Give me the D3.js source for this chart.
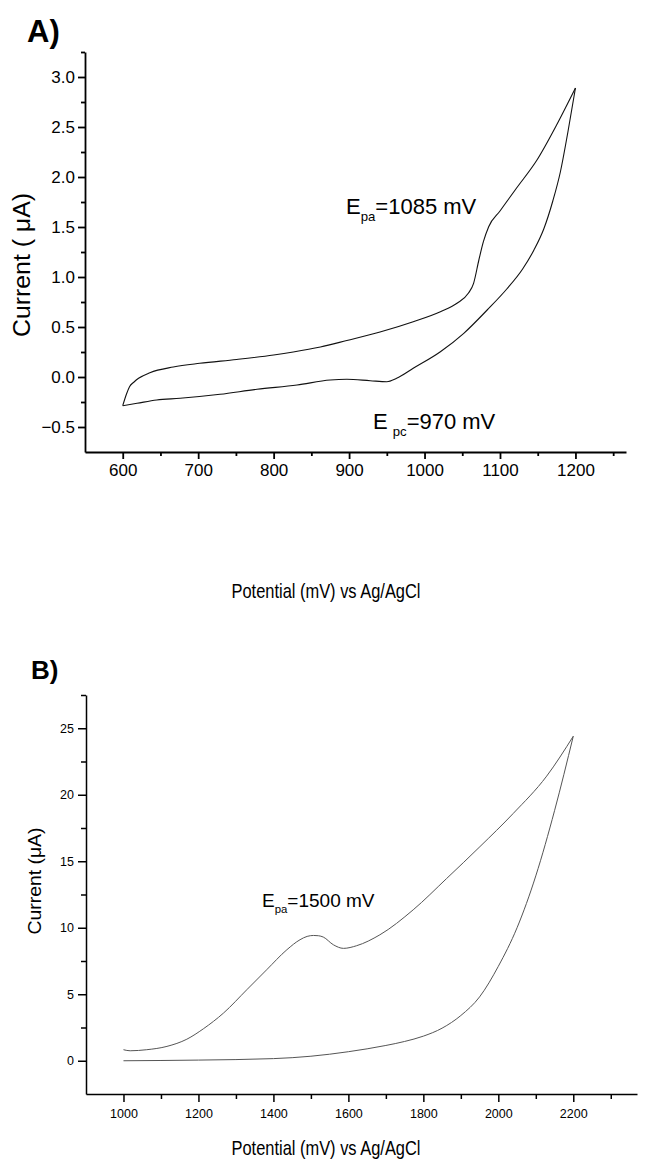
<!DOCTYPE html>
<html>
<head>
<meta charset="utf-8">
<script src="https://cdn.jsdelivr.net/npm/d3@7"></script>
<style>
  body { margin: 0; background: #fff; }
  svg { display: block; font-family: "Liberation Sans", Arial, sans-serif; }
  .axis path, .axis line { stroke: #000; }
</style>
</head>
<body>
<div id="chart"></div>
<script>
// panel A: forward sweep (600 -> 1200 mV)
let aFwdPotential = [600, 605, 609, 615, 621, 636, 667, 702, 751, 800, 826, 862, 897, 941, 985, 1021, 1043, 1058, 1065, 1072, 1078, 1085, 1100, 1122, 1149, 1175, 1200];
let aFwdCurrent = [-0.287, -0.17, -0.097, -0.05, -0.013, 0.043, 0.10, 0.137, 0.175, 0.22, 0.25, 0.30, 0.365, 0.45, 0.553, 0.653, 0.737, 0.837, 0.937, 1.17, 1.353, 1.503, 1.66, 1.89, 2.17, 2.52, 2.89];
// panel A: reverse sweep (1200 -> 600 mV)
let aRevPotential = [1200, 1190, 1180, 1170, 1158, 1145, 1130, 1109, 1083, 1052, 1021, 985, 963, 950, 928, 897, 875, 831, 778, 729, 676, 645, 619, 600];
let aRevCurrent = [2.89, 2.45, 2.05, 1.76, 1.48, 1.27, 1.08, 0.88, 0.67, 0.437, 0.253, 0.087, -0.013, -0.047, -0.037, -0.023, -0.03, -0.08, -0.123, -0.173, -0.213, -0.23, -0.263, -0.287];

// panel B: forward sweep (1000 -> 2200 mV)
let bFwdPotential = [1000, 1018, 1062, 1116, 1169, 1213, 1267, 1329, 1382, 1436, 1471, 1490, 1507, 1520, 1533, 1560, 1587, 1622, 1684, 1773, 1862, 1951, 2040, 2129, 2200];
let bFwdCurrent = [0.83, 0.75, 0.83, 1.08, 1.62, 2.4, 3.59, 5.34, 6.84, 8.35, 9.1, 9.35, 9.42, 9.4, 9.3, 8.72, 8.45, 8.65, 9.47, 11.35, 13.7, 16.1, 18.6, 21.4, 24.4];
// panel B: reverse sweep (2200 -> 1000 mV)
let bRevPotential = [2200, 2150, 2100, 2050, 2000, 1950, 1900, 1850, 1800, 1750, 1700, 1600, 1500, 1400, 1200, 1000];
let bRevCurrent = [24.4, 18.8, 13.9, 10.0, 7.1, 4.8, 3.4, 2.45, 1.85, 1.45, 1.15, 0.68, 0.34, 0.16, 0.05, 0.0];

// ticks
let aXTicks = [600, 700, 800, 900, 1000, 1100, 1200];
let aXMinor = [650, 750, 850, 950, 1050, 1150, 1250];
let aYTicks = [-0.5, 0.0, 0.5, 1.0, 1.5, 2.0, 2.5, 3.0];
let aYMinor = [-0.25, 0.25, 0.75, 1.25, 1.75, 2.25, 2.75, 3.25];
let bXTicks = [1000, 1200, 1400, 1600, 1800, 2000, 2200];
let bXMinor = [1100, 1300, 1500, 1700, 1900, 2100, 2300];
let bYTicks = [0, 5, 10, 15, 20, 25];
let bYMinor = [2.5, 7.5, 12.5, 17.5, 22.5, 27.5];

let W = 649, H = 1160;
let svg = d3.select('#chart').append('svg').attr('width', W).attr('height', H);

// pair up and sort by potential so monotoneX can be used on both sweeps
function zip(xs, ys) {
    return xs.map((x, i) => ({v: x, c: ys[i]})).sort((a, b) => a.v - b.v);
}

function panel(opt) {
    let x = d3.scaleLinear().domain(opt.xDomain).range(opt.xRange);
    let y = d3.scaleLinear().domain(opt.yDomain).range(opt.yRange);
    let g = svg.append('g');

    // minor ticks first
    g.append('g').attr('class', 'axis').attr('transform', 'translate(0,' + opt.yRange[0] + ')')
        .call(d3.axisBottom(x).tickValues(opt.xMinor).tickSize(opt.minorLen).tickFormat('').tickSizeOuter(0))
        .call(s => s.select('.domain').remove())
        .selectAll('line').attr('stroke-width', opt.axisW);
    g.append('g').attr('class', 'axis').attr('transform', 'translate(' + opt.xRange[0] + ',0)')
        .call(d3.axisLeft(y).tickValues(opt.yMinor).tickSize(opt.minorLen).tickFormat('').tickSizeOuter(0))
        .call(s => s.select('.domain').remove())
        .selectAll('line').attr('stroke-width', opt.axisW);

    let xa = g.append('g').attr('class', 'axis').attr('transform', 'translate(0,' + opt.yRange[0] + ')')
        .call(d3.axisBottom(x).tickValues(opt.xTicks).tickSize(opt.majorLen).tickSizeOuter(0).tickPadding(opt.xPad).tickFormat(d3.format('d')));
    xa.selectAll('path, line').attr('stroke-width', opt.axisW);
    xa.selectAll('text').attr('font-size', opt.tickFont).attr('fill', '#000');

    let ya = g.append('g').attr('class', 'axis').attr('transform', 'translate(' + opt.xRange[0] + ',0)')
        .call(d3.axisLeft(y).tickValues(opt.yTicks).tickSize(opt.majorLen).tickSizeOuter(0).tickPadding(opt.yPad).tickFormat(opt.yFmt));
    ya.selectAll('path, line').attr('stroke-width', opt.axisW);
    ya.selectAll('text').attr('font-size', opt.tickFont).attr('fill', '#000');

    let line = d3.line().x(d => x(d.v)).y(d => y(d.c)).curve(d3.curveMonotoneX);
    opt.sweeps.forEach(s => {
        g.append('path').attr('d', line(s)).attr('fill', 'none')
            .attr('stroke', opt.lineColor).attr('stroke-width', opt.lineW);
    });

    // axis titles (condensed to the original's width)
    g.append('text').attr('x', opt.xTitleX).attr('y', opt.xTitleY)
        .attr('text-anchor', 'middle').attr('font-size', opt.xTitleFont)
        .attr('textLength', opt.xTitleLen).attr('lengthAdjust', 'spacingAndGlyphs')
        .text('Potential (mV) vs Ag/AgCl');
    g.append('text').attr('transform', 'translate(' + opt.yTitleX + ',' + opt.yTitleY + ') rotate(-90)')
        .attr('text-anchor', 'middle').attr('font-size', opt.yTitleFont)
        .attr('textLength', opt.yTitleLen).attr('lengthAdjust', 'spacingAndGlyphs')
        .text(opt.yTitle);

    // panel letter
    g.append('text').attr('x', opt.letterX).attr('y', opt.letterY).attr('font-size', opt.letterFont)
        .attr('font-weight', 'bold').text(opt.letter);
    return {x: x, y: y, g: g};
}

// label like E<sub>pa</sub>=... drawn with a shifted tspan
function peakLabel(g, px, py, size, sub, rest, gap) {
    let t = g.append('text').attr('x', px).attr('y', py).attr('font-size', size);
    t.append('tspan').text('E');
    t.append('tspan').attr('dy', size * 0.32).attr('dx', gap).attr('font-size', size * 0.6).text(sub);
    t.append('tspan').attr('dy', -size * 0.32).text(rest);
}

let A = panel({
    xDomain: [550, 1267], xRange: [85, 626],
    yDomain: [-0.75, 3.25], yRange: [452, 52],
    xTicks: aXTicks, xMinor: aXMinor, yTicks: aYTicks, yMinor: aYMinor,
    majorLen: 7, minorLen: 4, axisW: 1.8, xPad: 5, yPad: 3,
    tickFont: 17, yFmt: d3.format('.1f'),
    sweeps: [zip(aFwdPotential, aFwdCurrent), zip(aRevPotential, aRevCurrent)],
    lineColor: '#111', lineW: 1.1,
    xTitleX: 326, xTitleY: 598, xTitleFont: 21, xTitleLen: 189,
    yTitleX: 30, yTitleY: 265, yTitleFont: 23, yTitleLen: 144, yTitle: 'Current ( \u03bcA)',
    letter: 'A)', letterX: 27, letterY: 42, letterFont: 31
});
peakLabel(A.g, 346, 214, 22, 'pa', '=1085 mV', 0);
peakLabel(A.g, 373, 429, 22, 'pc', '=970 mV', 5);

let B = panel({
    xDomain: [900, 2370], xRange: [86, 637],
    yDomain: [-2.5, 27.5], yRange: [1094, 695],
    xTicks: bXTicks, xMinor: bXMinor, yTicks: bYTicks, yMinor: bYMinor,
    majorLen: 8, minorLen: 5, axisW: 1.5, xPad: 7, yPad: 4,
    tickFont: 12.5, yFmt: d3.format('d'),
    sweeps: [zip(bFwdPotential, bFwdCurrent), zip(bRevPotential, bRevCurrent)],
    lineColor: '#555', lineW: 1,
    xTitleX: 326, xTitleY: 1155, xTitleFont: 21, xTitleLen: 189,
    yTitleX: 41, yTitleY: 881, yTitleFont: 19, yTitleLen: 107, yTitle: 'Current (\u03bcA)',
    letter: 'B)', letterX: 31, letterY: 679, letterFont: 26
});
peakLabel(B.g, 262, 907, 19, 'pa', '=1500 mV', 0);
</script>
</body>
</html>
